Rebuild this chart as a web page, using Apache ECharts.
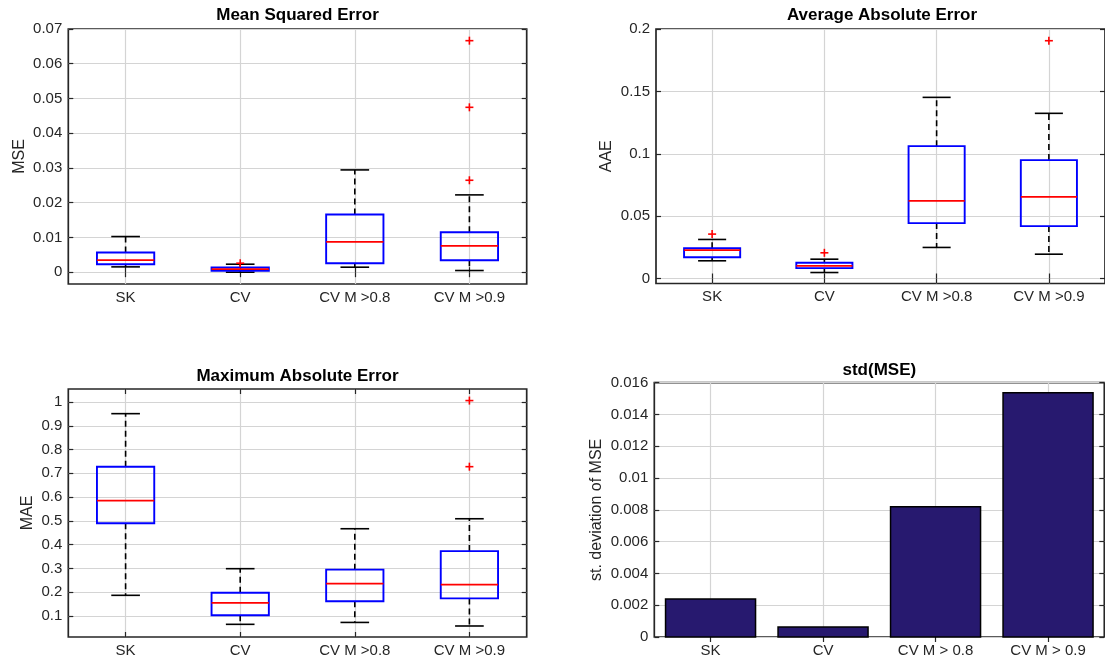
<!DOCTYPE html>
<html>
<head>
<meta charset="utf-8">
<script src="https://cdn.jsdelivr.net/npm/echarts@6/dist/echarts.min.js"></script>
<style>html,body{margin:0;padding:0;background:#fff}#c{width:1105px;height:662px}</style>
</head>
<body>
<div id="c"></div>
<script>
// ---- data ----
const boxCategories = ['SK', 'CV', 'CV M >0.8', 'CV M >0.9'];
const barCategories = ['SK', 'CV', 'CV M > 0.8', 'CV M > 0.9'];

// each box: [lower whisker, q1, median, q3, upper whisker]
const mseBoxes = [
  [0.00153, 0.0023, 0.00345, 0.00566, 0.01026],
  [0.0, 0.00038, 0.00086, 0.00134, 0.0023],
  [0.00144, 0.00259, 0.00873, 0.01659, 0.02944],
  [0.00048, 0.00345, 0.00757, 0.01151, 0.02225]
];
const mseOutliers = [[1, 0.00259], [3, 0.02646], [3, 0.04746], [3, 0.06664]]; // [category index, value]

const aaeBoxes = [
  [0.0142, 0.0171, 0.0227, 0.0243, 0.0313],
  [0.0048, 0.0083, 0.0102, 0.0126, 0.0155],
  [0.0249, 0.0444, 0.0623, 0.1061, 0.1452],
  [0.0195, 0.0420, 0.0655, 0.0949, 0.1324]
];
const aaeOutliers = [[0, 0.0356], [1, 0.0206], [3, 0.1906]];

const maeBoxes = [
  [0.187, 0.490, 0.585, 0.728, 0.951],
  [0.065, 0.103, 0.155, 0.198, 0.299],
  [0.073, 0.162, 0.236, 0.295, 0.467],
  [0.058, 0.174, 0.232, 0.373, 0.509]
];
const maeOutliers = [[3, 0.728], [3, 1.006]];

const stdMse = [0.00239, 0.00063, 0.0082, 0.01537];

// tick values
const mseTicks = [0, 0.01, 0.02, 0.03, 0.04, 0.05, 0.06, 0.07];
const aaeTicks = [0, 0.05, 0.1, 0.15, 0.2];
const maeTicks = [0.1, 0.2, 0.3, 0.4, 0.5, 0.6, 0.7, 0.8, 0.9, 1];
const stdTicks = [0, 0.002, 0.004, 0.006, 0.008, 0.01, 0.012, 0.014, 0.016];
const catTicks = [1, 2, 3, 4];

// ---- styling / layout ----
const FONT = '"Liberation Sans", Arial, Helvetica, sans-serif';
const TEXT = '#262626';
const GRIDLINE = '#d4d4d4';

const panels = [
  { title: 'Mean Squared Error', yName: 'MSE', grid: { left: 68.3, top: 29, width: 458.4, height: 255 },
    yMin: -0.0034, yMax: 0.07, yTicks: mseTicks, cats: boxCategories, nameGap: 41, titleY: 15,
    boxes: mseBoxes, outliers: mseOutliers },
  { title: 'Average Absolute Error', yName: 'AAE', grid: { left: 656, top: 29, width: 452, height: 254.5 },
    yMin: -0.004, yMax: 0.2, yTicks: aaeTicks, cats: boxCategories, nameGap: 41, titleY: 15,
    boxes: aaeBoxes, outliers: aaeOutliers },
  { title: 'Maximum Absolute Error', yName: 'MAE', grid: { left: 68.3, top: 389, width: 458.4, height: 248 },
    yMin: 0.0117, yMax: 1.0547, yTicks: maeTicks, cats: boxCategories, nameGap: 33, titleY: 376,
    boxes: maeBoxes, outliers: maeOutliers },
  { title: 'std(MSE)', yName: 'st. deviation of MSE', grid: { left: 654.3, top: 382.7, width: 450, height: 254.3 },
    yMin: 0, yMax: 0.016, yTicks: stdTicks, cats: barCategories, nameGap: 50, titleY: 370,
    bars: stdMse }
];

const fmtNum = v => String(parseFloat(Number(v).toFixed(6)));

function renderBox(params, api) {
  const x = api.value(0);
  const band = api.size([1, 0])[0];
  const bw = band * 0.5, cw = band * 0.25;
  const pLow = api.coord([x, api.value(1)]);
  const pQ1 = api.coord([x, api.value(2)]);
  const pMed = api.coord([x, api.value(3)]);
  const pQ3 = api.coord([x, api.value(4)]);
  const pHigh = api.coord([x, api.value(5)]);
  const cx = pLow[0];
  const dash = { stroke: '#000', lineWidth: 1.6, lineDash: [6, 4] };
  const solid = { stroke: '#000', lineWidth: 1.6 };
  return {
    type: 'group',
    children: [
      { type: 'line', shape: { x1: cx, y1: pQ3[1], x2: cx, y2: pHigh[1] }, style: dash },
      { type: 'line', shape: { x1: cx, y1: pQ1[1], x2: cx, y2: pLow[1] }, style: dash },
      { type: 'line', shape: { x1: cx - cw / 2, y1: pHigh[1], x2: cx + cw / 2, y2: pHigh[1] }, style: solid },
      { type: 'line', shape: { x1: cx - cw / 2, y1: pLow[1], x2: cx + cw / 2, y2: pLow[1] }, style: solid },
      { type: 'rect', shape: { x: cx - bw / 2, y: pQ3[1], width: bw, height: pQ1[1] - pQ3[1] },
        style: { fill: 'none', stroke: '#0000ff', lineWidth: 1.9 } },
      { type: 'line', shape: { x1: cx - bw / 2, y1: pMed[1], x2: cx + bw / 2, y2: pMed[1] },
        style: { stroke: '#ff0000', lineWidth: 1.8 } }
    ]
  };
}

function renderPlus(params, api) {
  const p = api.coord([api.value(0), api.value(1)]);
  const h = 4;
  const st = { stroke: '#ff0000', lineWidth: 1.6 };
  return {
    type: 'group',
    children: [
      { type: 'line', shape: { x1: p[0] - h, y1: p[1], x2: p[0] + h, y2: p[1] }, style: st },
      { type: 'line', shape: { x1: p[0], y1: p[1] - h, x2: p[0], y2: p[1] + h }, style: st }
    ]
  };
}

function renderBar(params, api) {
  const x = api.value(0);
  const p1 = api.coord([x - 0.4, api.value(1)]);
  const p2 = api.coord([x + 0.4, 0]);
  return {
    type: 'rect',
    shape: { x: p1[0], y: p1[1], width: p2[0] - p1[0], height: p2[1] - p1[1] },
    style: { fill: '#27196f', stroke: '#000', lineWidth: 1.5 }
  };
}

const grids = [], xAxes = [], yAxes = [], series = [], graphics = [];

panels.forEach((p, i) => {
  grids.push(Object.assign({ show: true, borderColor: TEXT, borderWidth: 1.7, backgroundColor: '#fff', containLabel: false }, p.grid));
  const cats = p.cats;
  xAxes.push({
    type: 'value', gridIndex: i, position: 'bottom', min: 0.5, max: 4.5,
    axisLine: { show: false },
    axisTick: { show: true, inside: true, length: 5, customValues: catTicks, lineStyle: { color: TEXT, width: 1.2 } },
    axisLabel: { show: true, customValues: catTicks, margin: 6, color: TEXT, fontSize: 15, fontFamily: FONT,
      formatter: v => cats[Math.round(v) - 1] || '' },
    splitLine: { show: true, lineStyle: { color: GRIDLINE, width: 1.2 } }
  });
  xAxes.push({
    type: 'value', gridIndex: i, position: 'top', min: 0.5, max: 4.5,
    axisLine: { show: false },
    axisTick: { show: true, inside: true, length: 5, customValues: catTicks, lineStyle: { color: TEXT, width: 1.2 } },
    axisLabel: { show: false }, splitLine: { show: false }
  });
  yAxes.push({
    type: 'value', gridIndex: i, position: 'left', min: p.yMin, max: p.yMax,
    name: p.yName, nameLocation: 'middle', nameGap: p.nameGap,
    nameTextStyle: { color: TEXT, fontSize: 16, fontFamily: FONT },
    axisLine: { show: false },
    axisTick: { show: true, inside: true, length: 5, customValues: p.yTicks, lineStyle: { color: TEXT, width: 1.2 } },
    axisLabel: { show: true, customValues: p.yTicks, margin: 6, color: TEXT, fontSize: 15, fontFamily: FONT, formatter: fmtNum },
    splitLine: { show: true, lineStyle: { color: GRIDLINE, width: 1.2 } }
  });
  yAxes.push({
    type: 'value', gridIndex: i, position: 'right', min: p.yMin, max: p.yMax,
    axisLine: { show: false },
    axisTick: { show: true, inside: true, length: 5, customValues: p.yTicks, lineStyle: { color: TEXT, width: 1.2 } },
    axisLabel: { show: false }, splitLine: { show: false }
  });

  if (p.boxes) {
    series.push({
      type: 'custom', xAxisIndex: 2 * i, yAxisIndex: 2 * i, renderItem: renderBox, silent: true,
      encode: { x: 0, y: [1, 2, 3, 4, 5] },
      data: p.boxes.map((b, k) => [k + 1].concat(b))
    });
    series.push({
      type: 'custom', xAxisIndex: 2 * i, yAxisIndex: 2 * i, renderItem: renderPlus, silent: true,
      encode: { x: 0, y: 1 },
      data: p.outliers.map(o => [o[0] + 1, o[1]])
    });
  } else {
    series.push({
      type: 'custom', xAxisIndex: 2 * i, yAxisIndex: 2 * i, renderItem: renderBar, silent: true,
      encode: { x: 0, y: 1 },
      data: p.bars.map((v, k) => [k + 1, v])
    });
  }

  graphics.push({
    type: 'text', x: p.grid.left + p.grid.width / 2, y: p.titleY,
    style: { text: p.title, fill: '#000', font: 'bold 17px ' + FONT, textAlign: 'center', textVerticalAlign: 'middle' }
  });
});

const chart = echarts.init(document.getElementById('c'), null, { renderer: 'canvas' });
chart.setOption({
  backgroundColor: '#fff',
  animation: false,
  grid: grids,
  xAxis: xAxes,
  yAxis: yAxes,
  series: series,
  graphic: graphics
});
</script>
</body>
</html>
